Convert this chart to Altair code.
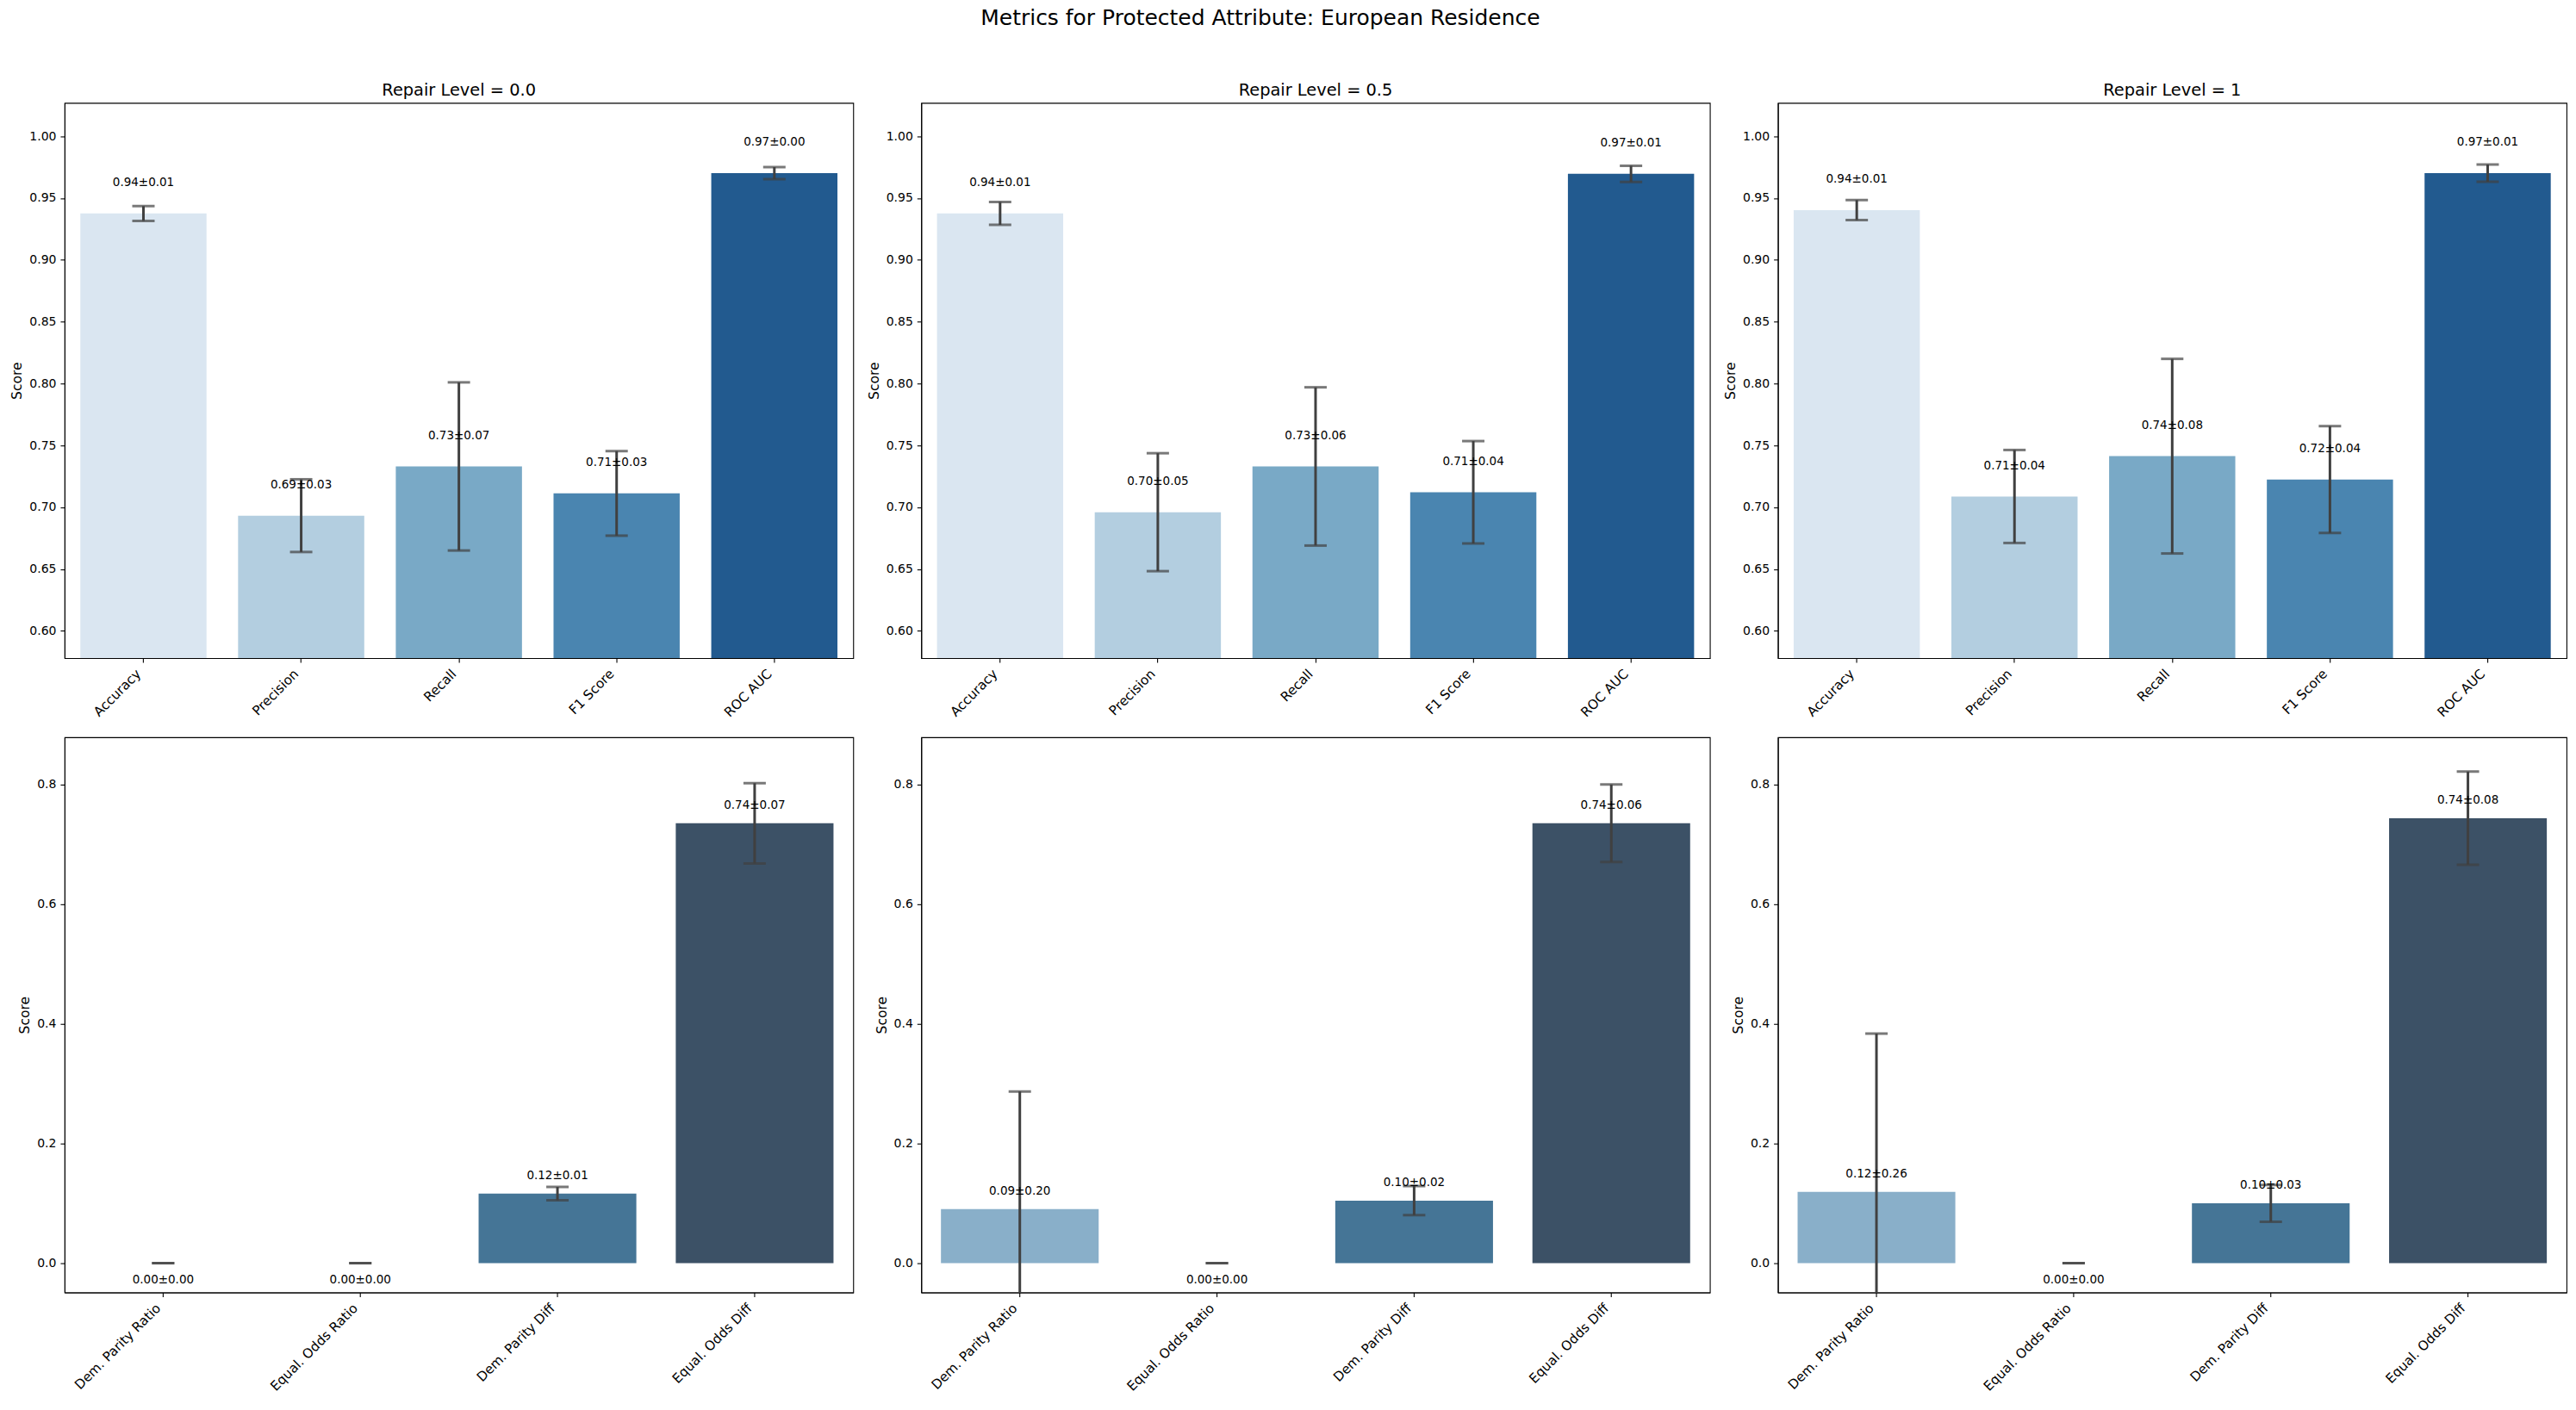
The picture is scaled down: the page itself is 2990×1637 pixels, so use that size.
import altair as alt
import pandas as pd

# Performance metrics (top row) and fairness metrics (bottom row)
perf_metrics = ["Accuracy", "Precision", "Recall", "F1 Score", "ROC AUC"]
perf_colors = ["#dae6f1", "#b3cee0", "#79a9c6", "#4a85b0", "#225a8f"]
fair_metrics = ["Dem. Parity Ratio", "Equal. Odds Ratio", "Dem. Parity Diff", "Equal. Odds Diff"]
fair_colors = ["#89afc9", "#6190b2", "#457596", "#3c5166"]

repair_levels = ["0.0", "0.5", "1"]

# mean and standard deviation across folds, per repair level
perf_mean = {
    "0.0": [0.9376, 0.6932, 0.7330, 0.7112, 0.9702],
    "0.5": [0.9376, 0.6960, 0.7330, 0.7121, 0.9696],
    "1": [0.9403, 0.7087, 0.7413, 0.7224, 0.9702],
}
perf_sd = {
    "0.0": [0.0060, 0.0294, 0.0680, 0.0342, 0.0048],
    "0.5": [0.0092, 0.0477, 0.0640, 0.0414, 0.0066],
    "1": [0.0081, 0.0376, 0.0787, 0.0432, 0.0070],
}
fair_mean = {
    "0.0": [0.0, 0.0, 0.1163, 0.7352],
    "0.5": [0.0904, 0.0, 0.1045, 0.7355],
    "1": [0.1193, 0.0, 0.1000, 0.7438],
}
fair_sd = {
    "0.0": [0.0, 0.0, 0.0112, 0.0672],
    "0.5": [0.1963, 0.0, 0.0243, 0.0648],
    "1": [0.2645, 0.0, 0.0308, 0.0780],
}

perf_domain = [0.578, 1.027]
perf_ticks = [0.60, 0.65, 0.70, 0.75, 0.80, 0.85, 0.90, 0.95, 1.00]
fair_domain = [-0.049, 0.879]
fair_ticks = [0.0, 0.2, 0.4, 0.6, 0.8]

FONT = "DejaVu Sans"
ERR = "#404040"
W, H = 916, 645


def panel(metrics, colors, means, sds, domain, ticks, fmt, title=None):
    df = pd.DataFrame({"metric": metrics, "mean": means, "sd": sds})
    base = alt.Chart(df).transform_calculate(
        lo="datum.mean - datum.sd",
        hi="datum.mean + datum.sd",
        label="format(datum.mean, '.2f') + '±' + format(datum.sd, '.2f')",
        up="datum.mean + 0.02",
        down="datum.mean - 0.018",
    )
    xs = alt.Scale(domain=metrics, paddingInner=0.2, paddingOuter=0.1)
    ys = alt.Scale(domain=domain, nice=False)
    x_axis = alt.Axis(
        title=None, labelAngle=315, labelAlign="right", labelBaseline="bottom",
        labelPadding=16, labelFontSize=15.3, labelOverlap=False, labelLimit=400,
    )
    y_axis = alt.Axis(title="Score", values=ticks, format=fmt)
    x = alt.X("metric:N", sort=metrics, scale=xs, axis=x_axis)

    def yq(field):
        return alt.Y(field, type="quantitative", scale=ys, axis=y_axis)

    bars = base.mark_bar(clip=True).encode(
        x=x,
        y=yq("mean"),
        y2=alt.datum(0),
        color=alt.Color("metric:N", scale=alt.Scale(domain=metrics, range=colors), legend=None),
    )
    rule = base.mark_rule(clip=True, color=ERR, strokeWidth=3).encode(
        x=x, y=yq("lo"), y2="hi:Q"
    )
    cap_lo = base.mark_tick(clip=True, color=ERR, size=26, thickness=3).encode(x=x, y=yq("lo"))
    cap_hi = base.mark_tick(clip=True, color=ERR, size=26, thickness=3).encode(x=x, y=yq("hi"))
    txt_up = base.transform_filter("datum.mean > 0").mark_text(
        baseline="bottom", fontSize=13.5, font=FONT, color="black"
    ).encode(x=x, y=yq("up"), text="label:N")
    txt_down = base.transform_filter("datum.mean <= 0").mark_text(
        baseline="top", fontSize=13.5, font=FONT, color="black"
    ).encode(x=x, y=yq("down"), text="label:N")

    layered = alt.layer(bars, rule, cap_lo, cap_hi, txt_up, txt_down)
    props = dict(width=W, height=H)
    if title is not None:
        props["title"] = alt.TitleParams(title, fontSize=19.4, fontWeight="normal", font=FONT, offset=4)
    return layered.properties(**props)


panels = []
for lvl in repair_levels:
    panels.append(panel(perf_metrics, perf_colors, perf_mean[lvl], perf_sd[lvl],
                        perf_domain, perf_ticks, ".2f", title=f"Repair Level = {lvl}"))
for lvl in repair_levels:
    panels.append(panel(fair_metrics, fair_colors, fair_mean[lvl], fair_sd[lvl],
                        fair_domain, fair_ticks, ".1f"))

chart = alt.concat(
    *panels,
    columns=3,
    spacing={"row": 92, "column": 79},
    bounds="flush",
    title=alt.TitleParams(
        "Metrics for Protected Attribute: European Residence",
        fontSize=25, fontWeight="normal", font=FONT, anchor="middle", dx=-33, offset=61,
    ),
    padding={"left": 12, "top": 8, "right": 10, "bottom": 5},
).resolve_scale(
    color="independent", x="independent", y="independent"
).configure_view(
    stroke="black", strokeWidth=1.1
).configure_axis(
    domainColor="black", domainWidth=1.1, tickColor="black", tickWidth=1.1, tickSize=5,
    labelColor="black", labelFont=FONT, labelFontSize=14, labelPadding=5,
    titleColor="black", titleFont=FONT, titleFontSize=15.5, titleFontWeight="normal",
    titlePadding=6, grid=False,
).configure_title(
    color="black", font=FONT, fontWeight="normal"
).properties(background="white")

chart.save("out.html", embed_options={"renderer": "svg", "actions": False})
